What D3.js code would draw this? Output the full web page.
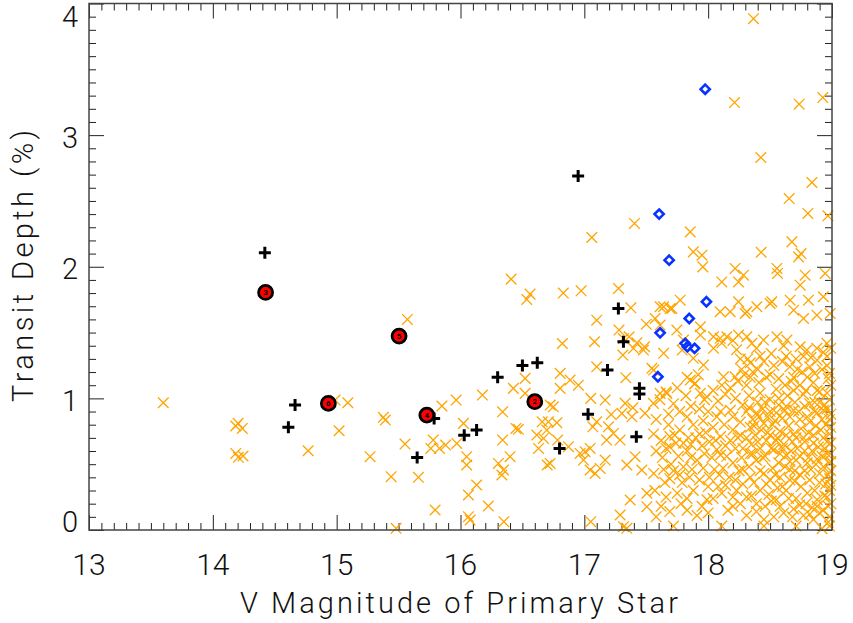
<!DOCTYPE html>
<html><head><meta charset="utf-8">
<script src="https://cdn.jsdelivr.net/npm/d3@7"></script>
<style>body{margin:0;background:#fff}</style></head>
<body>
<svg id="chart" width="853" height="623"></svg>
<script>
// ---- axis definitions ----
const xDomain = [13, 19];
const yDomain = [0, 4];
const xTickLabels = [13, 14, 15, 16, 17, 18, 19];
const yTickLabels = [0, 1, 2, 3, 4];
const xLabel = "V Magnitude of Primary Star";
const yLabel = "Transit Depth (%)";

// ---- data: [V magnitude, transit depth %] ----
// orange crosses: candidates (sparse part)
const candidatesBright = [
 [13.60,0.967],[14.204,0.81],[14.185,0.79],[14.238,0.772],[14.185,0.582],[14.206,0.552],[14.244,0.562],
 [14.77,0.602],[15.571,1.60],[14.987,0.987],[15.09,0.967],[15.02,0.754],[15.27,0.557],[15.377,0.856],
 [15.393,0.835],[15.44,0.405],[15.48,0.013],[15.552,0.653],[15.66,0.40],[15.85,0.942],[15.965,0.987],
 [15.78,0.683],[15.76,0.62],[15.83,0.62],[15.88,0.645],[15.97,0.658],[15.795,0.152]
];
const candidatesMid = [
 [17.405,2.329],[17.06,2.222],[16.409,1.906],[16.562,1.792],[16.535,1.752],[16.83,1.80],[16.974,1.817],
 [17.276,1.835],[17.376,1.688],[17.50,1.564],[17.10,1.594],[17.28,1.519],[16.823,1.417],[17.082,1.43],
 [17.316,1.455],[17.311,1.329],[17.362,1.468],[17.424,1.422],[17.486,1.392],[17.10,1.24],[17.335,1.157],
 [16.805,1.19],[16.885,1.139],[16.952,1.10],[16.522,1.152],[16.427,1.076],[16.522,1.038],[16.805,1.076],
 [16.177,1.025],[16.34,0.898],[16.724,0.949],[16.75,0.936],[17.052,1.0],[17.168,0.987],[17.33,0.962],
 [17.392,0.929],[17.303,0.886],[17.384,0.86],[17.49,0.886],[17.217,0.878],[17.10,0.822],[17.069,0.784],
 [16.024,0.81],[16.66,0.822],[16.71,0.822],[16.778,0.815],[16.697,0.759],[16.616,0.721],[16.67,0.696],
 [16.63,0.62],[16.784,0.683],[16.447,0.772],[16.468,0.765],[16.34,0.683],[16.40,0.557],[16.306,0.506],
 [16.347,0.456],[16.334,0.418],[16.05,0.557],[16.05,0.494],[16.13,0.342],[16.064,0.266],[16.225,0.182],
 [16.064,0.101],[16.078,0.076],[16.35,0.063],[16.70,0.494],[16.724,0.506],[16.872,0.633],[16.966,0.582],
 [17.006,0.595],[17.047,0.62],[16.993,0.531],[17.047,0.456],[17.087,0.43],[17.128,0.468],[17.168,0.531],
 [17.18,0.683],[17.235,0.734],[17.195,0.784],[17.289,0.683],[17.343,0.494],[17.41,0.557],[17.464,0.456],
 [17.37,0.228],[17.289,0.114],[17.316,0.025],[17.343,0.013],[17.052,0.063],[17.505,0.279],[17.505,0.177]
];
const candidatesFaintHigh = [
 [18.366,3.885],[18.213,3.247],[18.735,3.235],[18.926,3.285],[18.425,2.83],[18.838,2.64],[18.654,2.518],
 [18.805,2.405],[18.967,2.387],[17.855,2.265],[18.676,2.189],[18.428,2.11],[18.75,2.10],[18.73,2.075],
 [17.88,2.113],[17.95,2.088],[17.957,1.999],[18.555,1.987],[18.56,1.949],[18.218,1.987],[18.285,1.936],
 [18.245,1.885],[18.11,1.885],[18.783,1.936],[18.743,1.86],[18.945,1.949],[17.774,1.746],[17.707,1.683],
 [17.64,1.696],[18.245,1.734],[18.312,1.658],[18.299,1.645],[18.097,1.658],[18.178,1.658],[18.393,1.696],
 [18.50,1.721],[18.514,1.734],[18.662,1.746],[18.81,1.746],[18.93,1.772],[18.69,1.67],[18.77,1.607],
 [18.878,1.632],[18.985,1.645],[17.572,1.607],[17.612,1.557],[17.64,1.342],[17.937,1.544],[17.937,1.481],
 [17.747,1.519],[17.80,1.443],[17.79,1.367],[18.043,1.468],[18.097,1.456],[18.151,1.468],[18.245,1.481],
 [18.312,1.468],[18.353,1.418],[18.043,1.38],[17.962,1.253],[17.88,1.304],[18.124,1.164],[18.218,1.164],
 [18.447,1.443],[18.555,1.468],[18.636,1.443],[18.743,1.392],[18.797,1.367],[18.878,1.38],[18.959,1.418],
 [17.612,1.696],[17.693,1.683],[17.397,1.38],[17.477,1.367],[17.545,1.228],[17.612,1.038],[17.558,0.962],
 [17.666,1.038],[17.855,1.139],[17.895,1.114],[17.937,1.038],[17.99,1.012],
 [17.56,1.215],[18.11,1.42],[18.20,1.44],[18.23,1.37],[18.26,1.30],[18.27,1.22],[18.34,1.27],[18.39,1.38],
 [18.42,1.32],[18.51,1.34],[18.61,1.40],[18.63,1.32],[18.66,1.24],[18.72,1.22],[18.77,1.32],[18.82,1.24],
 [18.88,1.29],[18.92,1.22],[18.96,1.32],[18.98,1.19],[17.83,1.16],[18.34,1.16],[18.47,1.16],[18.69,1.16],
 [18.80,1.16]
];
const candidatesFaintLow = [
 [17.66,1.05],[17.89,1.11],[18.11,1.10],[18.24,1.13],[18.31,1.10],[18.42,1.04],[18.50,0.99],[18.57,0.95],
 [18.69,1.06],[18.77,1.03],[18.82,0.96],[18.88,1.06],[18.96,1.04],[18.98,0.99],
 [17.58,0.84],[17.77,0.90],[17.83,0.86],[17.93,0.92],[18.00,0.90],[18.07,0.86],[18.18,0.91],[18.31,0.90],
 [18.39,0.89],[18.45,0.81],[18.55,0.89],[18.63,0.94],[18.69,0.91],[18.74,0.84],[18.80,0.86],[18.88,0.89],
 [18.93,0.91],[18.98,0.84],
 [17.56,0.73],[17.69,0.71],[17.77,0.76],[17.84,0.70],[17.93,0.73],[18.01,0.67],[18.10,0.71],[18.20,0.76],
 [18.26,0.72],[18.34,0.78],[18.43,0.76],[18.50,0.72],[18.55,0.68],[18.61,0.65],[18.69,0.73],[18.77,0.70],
 [18.85,0.66],[18.93,0.70],[18.98,0.73],
 [17.58,0.60],[17.69,0.63],[17.76,0.56],[17.83,0.60],[17.91,0.53],[17.97,0.58],[18.07,0.61],[18.15,0.56],
 [18.20,0.51],[18.34,0.58],[18.39,0.53],[18.46,0.56],[18.53,0.61],[18.57,0.51],[18.63,0.57],[18.71,0.53],
 [18.80,0.51],[18.88,0.54],[18.96,0.58],[18.98,0.51],
 [17.56,0.43],[17.64,0.46],[17.69,0.39],[17.77,0.42],[17.87,0.46],[17.93,0.38],[18.01,0.40],[18.12,0.47],
 [18.28,0.35],[18.34,0.40],[18.45,0.43],[18.50,0.38],[18.58,0.40],[18.66,0.46],[18.74,0.42],[18.82,0.38],
 [18.90,0.43],[18.98,0.39],
 [17.57,0.30],[17.66,0.25],[17.75,0.28],[17.83,0.24],[17.88,0.30],[17.99,0.23],[18.11,0.28],[18.23,0.30],
 [18.31,0.25],[18.39,0.20],[18.49,0.27],[18.55,0.23],[18.63,0.30],[18.71,0.24],[18.80,0.28],[18.88,0.23],
 [18.96,0.25],[18.98,0.30],
 [17.58,0.10],[17.69,0.14],[17.83,0.15],[17.91,0.11],[18.00,0.13],[18.20,0.18],[18.31,0.11],[18.39,0.14],
 [18.45,0.08],[18.53,0.10],[18.61,0.13],[18.69,0.16],[18.77,0.11],[18.85,0.08],[18.90,0.13],[18.98,0.10],
 [17.72,0.03],[18.11,0.03],[18.45,0.03],[18.71,0.03],[18.92,0.01],[18.98,0.03],
 [18.96,1.25],[18.99,1.10],[18.94,0.95],[18.99,0.88],[18.95,0.80],[18.99,0.66],[18.94,0.62],[18.99,0.45],
 [18.95,0.35],[18.99,0.20],[18.93,0.15],[18.97,0.06],[18.91,0.76],[18.86,0.97],[18.87,0.79],[18.84,0.60],
 [18.83,0.46],[18.86,0.30],[18.84,0.17],
 [18.35,0.65],[18.38,0.72],[18.42,0.62],[18.47,0.68],[18.52,0.80],[18.58,0.75],[18.60,0.85],[18.65,0.79],
 [18.68,0.67],[18.72,0.62],[18.75,0.77],[18.44,0.92],[18.48,0.86],[18.36,0.84],[18.40,0.97],[18.58,0.58],
 [18.66,0.52],[18.52,0.47],[18.60,0.33],[18.70,0.37],[18.78,0.60],
 [17.63,0.55],[17.70,0.50],[17.80,0.48],[17.86,0.65],[17.95,0.64],[18.03,0.55],[18.05,0.46],[17.74,0.66],
 [17.66,0.62],[18.14,0.64],[18.22,0.62],[18.27,0.55],[18.17,0.40],[18.25,0.45],[18.08,0.33],[18.20,0.25],
 [18.26,0.82],[18.13,0.80],[18.04,0.78],[17.96,0.83],[17.88,0.80],[18.22,1.00],[18.14,1.03],[18.04,1.06],
 [17.97,0.99],[17.82,1.02],[17.72,0.96],[17.61,0.99],[18.33,1.02],[18.28,0.95],[18.55,1.07],[18.62,1.10],
 [18.74,1.10],[18.85,1.12],[18.50,1.18],[18.40,1.22]
];
const candidatesDenseCore = [
 [18.32,1.30],[18.36,1.20],[18.41,1.12],[18.45,1.28],[18.53,1.25],[18.57,1.15],[18.60,1.28],[18.64,1.02],
 [18.67,1.13],[18.71,1.30],[18.76,1.20],[18.79,1.06],[18.83,1.31],[18.86,1.19],[18.90,1.05],[18.93,1.35],
 [18.97,1.15],[18.99,1.38],
 [18.33,0.93],[18.37,0.79],[18.41,0.86],[18.46,0.97],[18.50,0.90],[18.54,0.83],[18.57,1.00],[18.62,0.91],
 [18.66,0.86],[18.70,0.97],[18.73,0.90],[18.78,0.94],[18.82,0.82],[18.86,0.90],[18.90,0.97],[18.92,0.84],
 [18.96,0.92],[18.99,0.78],
 [18.31,0.70],[18.36,0.58],[18.40,0.67],[18.44,0.55],[18.48,0.74],[18.51,0.62],[18.56,0.70],[18.60,0.62],
 [18.63,0.72],[18.67,0.60],[18.71,0.70],[18.74,0.56],[18.78,0.67],[18.81,0.74],[18.85,0.72],[18.89,0.63],
 [18.92,0.56],[18.96,0.67],[18.99,0.58],
 [18.33,0.48],[18.37,0.36],[18.42,0.45],[18.47,0.35],[18.54,0.42],[18.56,0.32],[18.62,0.48],[18.66,0.38],
 [18.70,0.45],[18.75,0.33],[18.78,0.45],[18.81,0.55],[18.87,0.50],[18.90,0.36],[18.93,0.48],[18.97,0.42],
 [18.99,0.52],
 [18.35,0.26],[18.42,0.30],[18.46,0.18],[18.51,0.22],[18.58,0.18],[18.65,0.24],[18.68,0.10],[18.74,0.19],
 [18.79,0.20],[18.82,0.12],[18.88,0.18],[18.94,0.26],[18.97,0.18],[18.99,0.34],
 [17.62,0.68],[17.68,0.80],[17.73,0.72],[17.80,0.66],[17.86,0.55],[17.90,0.70],[17.98,0.74],[18.06,0.68],
 [18.10,0.57],[18.18,0.68],[18.24,0.70],[18.28,0.62],
 [17.65,0.36],[17.72,0.45],[17.79,0.36],[17.85,0.40],[17.96,0.47],[18.00,0.33],[18.09,0.42],[18.14,0.34],
 [18.22,0.38],[18.28,0.46],
 [17.62,0.18],[17.78,0.20],[17.95,0.18],[18.04,0.24],[18.16,0.15],[18.26,0.20],
 [17.75,1.08],[17.92,1.18],[18.08,0.98],[18.18,1.08],[18.29,1.18],[17.68,0.88],[17.86,0.94],[18.10,0.90],
 [18.20,0.86]
];
// black pluses
const plusPoints = [
 [14.42,2.106],[14.61,0.78],[14.664,0.949],[15.65,0.55],[15.787,0.848],[16.03,0.72],[16.13,0.76],
 [16.30,1.16],[16.50,1.25],[16.62,1.27],[16.80,0.62],[16.95,2.69],[17.03,0.88],[17.187,1.215],
 [17.275,1.683],[17.316,1.43],[17.445,1.076],[17.445,1.033],[17.42,0.708]
];
// red circled points with their numbers
const circlePoints = [[14.426,1.805],[14.933,0.962],[15.504,1.473],[15.728,0.873],[16.60,0.975]];
const circleNumbers = ["3","6","5","4","2"];
// blue diamonds
const diamondPoints = [
 [17.976,3.349],[17.604,2.40],[17.685,2.05],[17.986,1.734],[17.847,1.607],[17.612,1.498],
 [17.814,1.418],[17.832,1.392],[17.89,1.38],[17.594,1.164]
];

// ---- drawing ----
const svg = d3.select("#chart");
const L = 89, R = 832, T = 3.5, B = 530;
const x = d3.scaleLinear().domain(xDomain).range([L, R]);
const y = d3.scaleLinear().domain(yDomain).range([B, T]);

const font = "Roboto, 'DejaVu Sans', sans-serif";
const minorX = d3.range(130, 191).map(v => v / 10).filter(v => !xTickLabels.includes(v));
const minorY = d3.range(0, 41).map(v => v / 10).filter(v => !yTickLabels.includes(v));

function styleAxis(g) {
  g.selectAll(".domain").remove();
  g.selectAll(".tick line").attr("stroke", "#222").attr("stroke-width", 1);
  g.selectAll("text").remove();
}
const axes = svg.append("g");
axes.append("g").attr("transform", `translate(0,${B})`).call(d3.axisBottom(x).tickValues(xTickLabels).tickSize(-15)).call(styleAxis);
axes.append("g").attr("transform", `translate(0,${B})`).call(d3.axisBottom(x).tickValues(minorX).tickSize(-7)).call(styleAxis);
axes.append("g").attr("transform", `translate(0,${T})`).call(d3.axisTop(x).tickValues(xTickLabels).tickSize(-15)).call(styleAxis);
axes.append("g").attr("transform", `translate(0,${T})`).call(d3.axisTop(x).tickValues(minorX).tickSize(-7)).call(styleAxis);
axes.append("g").attr("transform", `translate(${L},0)`).call(d3.axisLeft(y).tickValues(yTickLabels).tickSize(-15)).call(styleAxis);
axes.append("g").attr("transform", `translate(${L},0)`).call(d3.axisLeft(y).tickValues(minorY).tickSize(-7)).call(styleAxis);
axes.append("g").attr("transform", `translate(${R},0)`).call(d3.axisRight(y).tickValues(yTickLabels).tickSize(-15)).call(styleAxis);
axes.append("g").attr("transform", `translate(${R},0)`).call(d3.axisRight(y).tickValues(minorY).tickSize(-7)).call(styleAxis);

// markers
const plot = svg.append("g");
const allCandidates = candidatesBright.concat(candidatesMid, candidatesFaintHigh, candidatesFaintLow, candidatesDenseCore);
const crossPath = "M-5.3,-5.3L5.3,5.3M-5.3,5.3L5.3,-5.3";
plot.append("g").selectAll("path").data(allCandidates).join("path")
  .attr("transform", d => `translate(${x(d[0])},${y(d[1])})`)
  .attr("d", crossPath).attr("stroke", "#FFA500").attr("stroke-width", 1.3).attr("fill", "none");

plot.append("g").selectAll("path").data(plusPoints).join("path")
  .attr("transform", d => `translate(${x(d[0])},${y(d[1])})`)
  .attr("d", "M-6,0L6,0M0,-6L0,6").attr("stroke", "#000").attr("stroke-width", 3).attr("fill", "none");

const cg = plot.append("g").selectAll("g").data(circlePoints).join("g")
  .attr("transform", d => `translate(${x(d[0])},${y(d[1])})`);
cg.append("circle").attr("r", 7).attr("fill", "#ff0000").attr("stroke", "#000").attr("stroke-width", 2.8);
cg.append("text").text((d, i) => circleNumbers[i]).attr("text-anchor", "middle").attr("dy", "0.35em")
  .attr("font-family", font).attr("font-size", 8).attr("font-weight", "bold").attr("fill", "#000");

plot.append("g").selectAll("path").data(diamondPoints).join("path")
  .attr("transform", d => `translate(${x(d[0])},${y(d[1])})`)
  .attr("d", "M0,-4.6L4.6,0L0,4.6L-4.6,0Z").attr("stroke", "#0a32ff").attr("stroke-width", 2.6).attr("fill", "none");

// frame
svg.append("rect").attr("x", L).attr("y", T).attr("width", R - L).attr("height", B - T)
  .attr("fill", "none").attr("stroke", "#444").attr("stroke-width", 1.5);

// tick labels
svg.append("g").selectAll("text").data(xTickLabels).join("text")
  .attr("x", d => x(d)).attr("y", 575).attr("text-anchor", "middle")
  .attr("font-family", font).attr("font-weight", 300).attr("font-size", 30).attr("fill", "#111")
  .text(d => d);
svg.append("g").selectAll("text").data(yTickLabels).join("text")
  .attr("x", 78).attr("y", d => Math.min(Math.max(y(d) + 2, 17), 522)).attr("dy", "0.36em").attr("text-anchor", "end")
  .attr("font-family", font).attr("font-weight", 300).attr("font-size", 29).attr("fill", "#111")
  .text(d => d);

// axis titles
svg.append("text").attr("x", 459).attr("y", 613).attr("text-anchor", "middle")
  .attr("font-family", font).attr("font-weight", 300).attr("font-size", 29).attr("fill", "#111")
  .attr("textLength", 438).attr("lengthAdjust", "spacing").text(xLabel);
svg.append("text").attr("transform", "translate(33,266) rotate(-90)").attr("text-anchor", "middle")
  .attr("font-family", font).attr("font-weight", 300).attr("font-size", 29).attr("fill", "#111")
  .attr("textLength", 272).attr("lengthAdjust", "spacing").text(yLabel);
</script>
</body></html>
